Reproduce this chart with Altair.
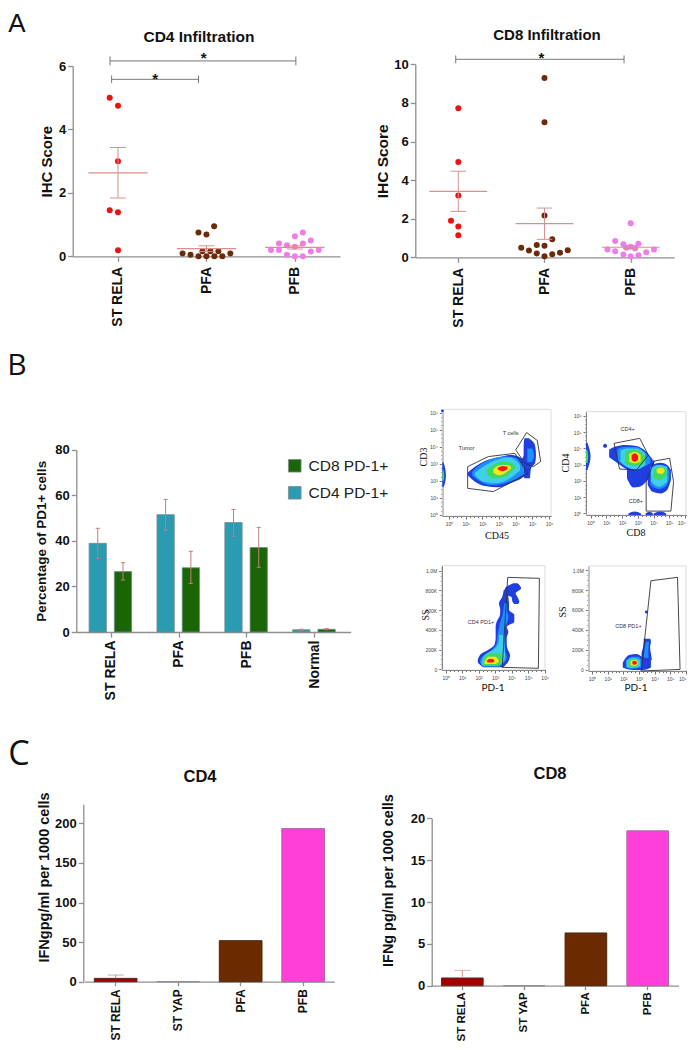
import altair as alt
import pandas as pd

W, H = 679, 1034
SANS = "Liberation Sans"
AXIS_GREY = "#8f8f8f"
ERR = "#d98f8f"

# ---------- Panel A data ----------
A_CATS = ["ST RELA", "PFA", "PFB"]
A_COLORS = ["#ee1111", "#6b2a0a", "#f07ce8"]

cd4_rela_off = [-0.094, 0, 0, -0.094, 0, 0]
cd4_rela_val = [5.0, 4.75, 3.0, 1.45, 1.39, 0.19]
cd4_pfa_off = [0.087, -0.09, 0, -0.045, 0.045, 0.135, -0.27, -0.18, -0.09, 0, 0.09, 0.18, 0.27]
cd4_pfa_val = [0.95, 0.75, 0.69, 0.16, 0.16, 0.16, 0.09, 0.05, 0, 0, 0, 0, 0.09]
cd4_pfb_off = [0.09, 0, 0.18, -0.18, 0.09, -0.09, 0, -0.27, -0.18, 0.27, 0.18, -0.09, 0, 0.09]
cd4_pfb_val = [0.75, 0.63, 0.5, 0.4, 0.4, 0.35, 0.3, 0.2, 0.2, 0.2, 0.15, 0.05, 0, 0]
cd4_mean = [2.63, 0.24, 0.28]
cd4_hi = [3.43, 0.33, 0.33]
cd4_lo = [1.84, 0.15, 0.23]

cd8_rela_off = [0, 0, 0, -0.085, 0, 0]
cd8_rela_val = [7.72, 4.94, 3.2, 1.9, 1.59, 1.14]
cd8_pfa_off = [0, 0, 0, 0.09, -0.27, -0.09, 0, -0.18, -0.09, 0.09, 0.18, 0.27, 0]
cd8_pfa_val = [9.29, 7.0, 2.16, 0.93, 0.5, 0.64, 0.6, 0.35, 0.2, 0.16, 0.24, 0.36, 0.05]
cd8_pfb_off = [0, -0.18, -0.085, 0.09, 0, -0.05, 0.05, -0.27, -0.18, 0.27, 0.18, -0.085, 0, 0.09]
cd8_pfb_val = [1.76, 0.85, 0.67, 0.7, 0.55, 0.5, 0.45, 0.4, 0.31, 0.4, 0.26, 0.15, 0.05, 0.1]
cd8_mean = [3.42, 1.74, 0.52]
cd8_hi = [4.46, 2.55, 0.6]
cd8_lo = [2.38, 0.93, 0.45]

# bracket: start category, end category, level, end tick half height
cd4_brackets = [(-0.09, 2.011, 6.16, 0.14), (-0.072, 0.91, 5.58, 0.12)]
cd4_stars = [(0.97, 6.36), (0.42, 5.7)]
cd8_brackets = [(-0.03, 1.923, 10.26, 0.2)]
cd8_stars = [(0.965, 10.5)]

# ---------- Panel B data ----------
B_CATS = ["ST RELA", "PFA", "PFB", "Normal"]
B_OFF = {"CD4 PD-1+": -0.191, "CD8 PD-1+": 0.181}
pd1_cd4 = [38.9, 51.5, 48.0, 1.0]
pd1_cd4_hi = [45.5, 58.2, 53.8, 1.2]
pd1_cd4_lo = [32.3, 44.7, 42.0, 0.8]
pd1_cd8 = [26.5, 28.2, 37.1, 1.2]
pd1_cd8_hi = [30.4, 35.4, 45.9, 1.5]
pd1_cd8_lo = [22.8, 21.3, 28.4, 1.0]

# ---------- Panel C data ----------
C_CATS = ["ST RELA", "ST YAP", "PFA", "PFB"]
C_FILL = ["#a30000", "#6b2a00", "#6b2a00", "#ff3fd8"]
C_STROKE = ["#5a2a2a", "#8f8f8f", "#4a2a10", "#a868a8"]
ifn_cd4 = [4.2, 0, 51.8, 193.3]
ifn_cd4_hi = [8.4]
ifn_cd8 = [0.92, 0, 6.3, 18.5]
ifn_cd8_hi = [1.83]

# ---------- Flow cytometry: density contours (level 0 outermost ... 5 innermost) ----------
LEVELS = ["#1f3fe0", "#1f8fff", "#3fd0e8", "#3fd860", "#f0e818", "#f01818"]

f1_columns = [
    (0, [(1.12, 2.32, 2.48), (1.56, 1.95, 2.83), (2.16, 1.70, 3.16), (2.96, 1.62, 3.38), (3.76, 1.89, 3.52), (4.36, 2.15, 3.32), (4.66, 2.40, 2.64)]),
    (1, [(1.4, 2.3, 2.55), (1.8, 2.0, 2.9), (2.5, 1.75, 3.25), (3.3, 1.85, 3.42), (4.0, 2.1, 3.35), (4.5, 2.4, 2.8)]),
    (2, [(1.56, 2.32, 2.48), (2.06, 1.95, 2.83), (2.86, 1.86, 3.22), (3.66, 2.15, 3.38), (4.26, 2.6, 2.93)]),
    (3, [(2.26, 2.40, 2.64), (2.66, 2.15, 2.93), (3.26, 2.21, 3.13), (3.76, 2.54, 3.03), (3.96, 2.73, 2.87)]),
    (4, [(2.66, 2.48, 2.68), (3.06, 2.32, 2.91), (3.46, 2.52, 2.93), (3.72, 2.71, 2.83)]),
    (5, [(2.92, 2.68, 2.75), (3.2, 2.56, 2.87), (3.5, 2.68, 2.83)]),
]
f1_rows = [
    (0, [(4.49, 4.52, 4.8), (4.10, 4.48, 5.16), (3.52, 4.48, 5.22), (3.03, 4.26, 5.16), (2.73, 4.32, 4.92), (2.15, 4.52, 4.86)]),
    (1, [(3.9, 4.7, 5.0), (3.5, 4.7, 5.1), (3.1, 4.7, 5.0)]),
    (0, [(1.66, -0.4, -0.3), (2.3, -0.4, -0.18), (3.0, -0.4, -0.3), (3.1, -0.4, -0.38)]),
    (3, [(2.0, -0.4, -0.32), (2.3, -0.4, -0.28), (2.6, -0.4, -0.32)]),
]
f2_columns = [
    (0, [(1.18, 3.45, 3.94), (1.59, 3.18, 4.11), (2.2, 2.77, 4.21), (2.92, 2.57, 4.15), (3.53, 2.77, 3.8), (3.94, 2.98, 3.33)]),
    (0, [(2.31, 2.16, 2.77), (2.71, 1.6, 2.87), (3.12, 1.64, 2.87), (3.63, 2.05, 3.08), (4.04, 2.57, 3.29)]),
    (0, [(3.63, 1.75, 2.77), (3.94, 1.33, 2.98), (4.45, 1.23, 3.12), (4.86, 1.44, 2.98), (5.1, 2.05, 2.67)]),
    (1, [(1.7, 3.25, 3.95), (2.1, 2.95, 4.08), (2.9, 2.7, 4.08), (3.45, 2.9, 3.75), (3.8, 3.1, 3.4)]),
    (2, [(1.9, 3.18, 3.85), (2.31, 2.87, 4.0), (2.92, 2.71, 4.0), (3.47, 2.98, 3.7)]),
    (3, [(2.2, 3.08, 3.8), (2.71, 2.92, 3.94), (3.22, 2.98, 3.8), (3.47, 3.29, 3.49)]),
    (4, [(2.45, 3.18, 3.66), (2.82, 3.08, 3.8), (3.18, 3.18, 3.59)]),
    (5, [(2.61, 3.29, 3.59), (2.82, 3.18, 3.7), (3.02, 3.33, 3.53)]),
    (1, [(3.8, 1.75, 2.85), (4.35, 1.5, 3.0), (4.8, 1.7, 2.9), (5.0, 2.1, 2.6)]),
    (2, [(3.84, 1.95, 2.77), (4.35, 1.64, 2.98), (4.86, 1.95, 2.87)]),
    (3, [(4.0, 2.16, 2.71), (4.41, 2.05, 2.87), (4.82, 2.36, 2.73)]),
    (4, [(4.2, 2.51, 2.73), (4.49, 2.42, 2.81), (4.69, 2.57, 2.73)]),
    (0, [(2.4, -0.1, 0.0), (2.8, -0.1, 0.12), (3.2, -0.1, 0.0)]),
    (0, [(3.5, -0.1, 0.0), (3.75, -0.1, 0.1), (3.95, -0.1, 0.0)]),
    (0, [(4.0, -0.1, 0.0), (4.45, -0.1, 0.12), (4.8, -0.1, 0.0)]),
    (0, [(0.8, 4.08, 4.2), (0.92, 4.03, 4.28), (1.04, 4.08, 4.2)]),
]
f2_rows = [
    (0, [(2.67, -0.29, -0.2), (3.5, -0.29, 0.0), (4.35, -0.29, -0.2)]),
    (3, [(3.1, -0.29, -0.2), (3.5, -0.29, -0.15), (3.9, -0.29, -0.2)]),
]
f3_columns = []
f3_rows = [
    (0, [(20, 2.28, 3.49), (78, 1.94, 3.8), (145, 2.08, 3.9), (203, 2.63, 3.76), (247, 2.95, 3.7), (314, 3.03, 3.7), (382, 3.03, 3.8), (432, 3.03, 3.7), (483, 3.09, 4.16), (551, 3.29, 4.16), (601, 3.31, 3.84), (669, 3.23, 3.84), (736, 3.43, 3.8), (804, 3.52, 3.8)]),
    (0, [(872, 4.1, 4.36), (821, 3.6, 4.57), (770, 3.52, 4.24), (730, 4.0, 4.36), (686, 4.04, 4.46), (662, 4.16, 4.4)]),
    (1, [(27, 2.28, 3.29), (78, 2.08, 3.6), (128, 2.22, 3.7), (196, 2.79, 3.6), (263, 3.09, 3.6), (348, 3.15, 3.6), (415, 3.23, 3.56), (466, 3.29, 3.7), (534, 3.43, 3.8), (601, 3.49, 3.7), (669, 3.56, 3.7)]),
    (2, [(44, 2.18, 3.29), (95, 2.22, 3.56), (145, 2.38, 3.6), (213, 3.0, 3.56), (297, 3.23, 3.52), (348, 3.23, 3.47)]),
    (3, [(34, 2.22, 3.15), (78, 2.28, 3.39), (128, 2.38, 3.43), (162, 2.69, 3.29)]),
    (4, [(54, 2.34, 3.03), (84, 2.38, 3.23), (128, 2.55, 3.03)]),
    (5, [(68, 2.55, 2.87), (84, 2.5, 2.95), (105, 2.63, 2.87)]),
]
f4_columns = [
    (0, [(1.96, 23, 70), (2.36, 3, 147), (2.86, -3, 157), (3.26, -3, 124), (3.76, 23, 114)]),
    (1, [(2.16, 23, 97), (2.56, 10, 131), (2.96, 17, 131), (3.16, 23, 97)]),
    (2, [(2.22, 30, 90), (2.66, 17, 117), (3.06, 37, 97)]),
    (3, [(2.3, 37, 87), (2.7, 23, 107), (2.96, 47, 87)]),
    (4, [(2.46, 44, 90), (2.76, 37, 97), (2.92, 54, 80)]),
    (5, [(2.58, 54, 84), (2.74, 50, 87), (2.86, 60, 77)]),
]
f4_rows = [
    (0, [(97, 3.16, 3.82), (164, 3.16, 3.76), (224, 3.26, 3.7), (281, 3.3, 3.76), (312, 3.3, 3.72)]),
    (1, [(110, 3.3, 3.6), (200, 3.35, 3.6), (280, 3.45, 3.65)]),
]

f1_gates = [
    [(1.12, 2.83), (2.36, 3.42), (3.96, 3.61), (4.72, 2.42), (2.66, 1.37), (1.12, 1.56), (1.12, 2.83)],
    [(4.66, 4.83), (5.3, 4.36), (5.5, 3.13), (5.06, 2.83), (4.56, 3.03), (4.0, 3.81), (4.66, 4.83)],
]
f2_gates = [
    [(1.49, 4.31), (3.12, 4.62), (3.67, 3.59), (2.92, 2.67), (1.84, 2.73), (1.49, 4.31)],
    [(4.04, 3.22), (5.02, 3.39), (5.27, 1.95), (5.1, 0.14), (3.53, 0.14), (3.53, 1.95), (4.04, 3.22)],
]
f3_gates = [[(3.76, 932), (5.68, 922), (5.62, 10), (3.43, 20), (3.76, 932)]]
f4_gates = [[(3.76, 894), (5.46, 928), (5.62, 3), (3.14, -13), (3.76, 894)]]

f1_notes = [("Tumor", 1.06, 3.93), ("T cells", 3.7, 4.82)]
f2_notes = [("CD4+", 2.35, 5.17), ("CD8+", 2.88, 0.76)]
f3_notes = [("CD4 PD1+", 2.14, 476)]
f4_notes = [("CD8 PD1+", 2.32, 435)]
f1_dots = [(-0.4, 6.1)]
f2_dots = []
f3_dots = []
f4_dots = [(3.46, 580)]


# ---------- helpers ----------
def qscale(domain, px):
    return alt.Scale(domain=domain, range=[px[0] - 8, px[1] - 8], nice=False, zero=False)


def yaxis(px_x, values, title, size=13, title_size=14, title_x=None, title_y=None, weight="bold"):
    ax = dict(
        orient="left", offset=-(px_x - 8), values=values, grid=False,
        domainColor=AXIS_GREY, tickColor=AXIS_GREY, domainWidth=1.3, tickWidth=1.3, tickSize=5,
        labelFont=SANS, labelFontSize=size, labelFontWeight=weight, labelColor="#111", labelPadding=2,
        title=title, titleFont=SANS, titleFontSize=title_size, titleFontWeight="bold", titleColor="#111",
        titleAngle=270, titleAlign="center", titleBaseline="middle",
        titleX=title_x - px_x,
    )
    if title_y is not None:
        ax["titleY"] = title_y - 8
    return alt.Axis(**ax)


def xaxis(px_y, values, names, size=14, pad=5, tick=5):
    ax = dict(
        orient="bottom", offset=-(H - (px_y - 8)), grid=False,
        domainColor=AXIS_GREY, tickColor=AXIS_GREY, domainWidth=1.3, tickWidth=1.3, tickSize=tick,
        labelFont=SANS, labelFontSize=size, labelFontWeight="bold", labelColor="#111",
        labelAngle=270, labelPadding=pad, title=None,
    )
    if values is not None:
        ax["values"] = values
        ax["labelExpr"] = "[" + ",".join(f"'{n}'" for n in names) + "][datum.value]"
    return alt.Axis(**ax)


def text_layer(label, px_x, px_y, size, font=SANS, weight="normal", angle=0, color="#111"):
    kw = dict(font=font, fontSize=size, fontWeight=weight, color=color, align="center", baseline="middle")
    if angle:
        kw["angle"] = angle
    return alt.Chart(pd.DataFrame({"t": [label]})).mark_text(**kw).encode(
        text="t:N", x=alt.value(px_x - 8), y=alt.value(px_y - 8))


def scatter_panel(offs, vals, mean, hi, lo, brackets, stars, xs, ys, yax, xax):
    rows = []
    for i, cat in enumerate(A_CATS):
        for o, v in zip(offs[i], vals[i]):
            rows.append({"pos": i + o, "value": v, "group": cat})
    pts = pd.DataFrame(rows)
    stats = pd.DataFrame({"pos": [0, 1, 2], "mean": mean, "hi": hi, "lo": lo})
    br = pd.DataFrame(brackets, columns=["a", "b", "y", "t"])
    st = pd.DataFrame(stars, columns=["x", "y"]).assign(s="*")
    X = lambda f: alt.X(f, scale=xs, axis=None)
    Y = lambda f: alt.Y(f, scale=ys, axis=None)
    layers = [
        alt.Chart(pts).mark_circle(size=36, opacity=1).encode(
            x=alt.X("pos:Q", scale=xs, axis=xax), y=alt.Y("value:Q", scale=ys, axis=yax),
            color=alt.Color("group:N", scale=alt.Scale(domain=A_CATS, range=A_COLORS), legend=None)),
        alt.Chart(stats).mark_rule(color=ERR, strokeWidth=1).encode(x=X("pos:Q"), y=Y("lo:Q"), y2="hi:Q"),
        alt.Chart(stats).transform_calculate(a="datum.pos-0.335", b="datum.pos+0.335").mark_rule(color=ERR, strokeWidth=1.2)
        .encode(x=X("a:Q"), x2="b:Q", y=Y("mean:Q")),
        alt.Chart(stats).transform_calculate(a="datum.pos-0.09", b="datum.pos+0.09").mark_rule(color=ERR, strokeWidth=1)
        .encode(x=X("a:Q"), x2="b:Q", y=Y("hi:Q")),
        alt.Chart(stats).transform_calculate(a="datum.pos-0.09", b="datum.pos+0.09").mark_rule(color=ERR, strokeWidth=1)
        .encode(x=X("a:Q"), x2="b:Q", y=Y("lo:Q")),
        alt.Chart(br).mark_rule(color="#777", strokeWidth=1).encode(x=X("a:Q"), x2="b:Q", y=Y("y:Q")),
        alt.Chart(br).transform_calculate(u="datum.y+datum.t", d="datum.y-datum.t").mark_rule(color="#777", strokeWidth=1)
        .encode(x=X("a:Q"), y=Y("u:Q"), y2="d:Q"),
        alt.Chart(br).transform_calculate(u="datum.y+datum.t", d="datum.y-datum.t").mark_rule(color="#777", strokeWidth=1)
        .encode(x=X("b:Q"), y=Y("u:Q"), y2="d:Q"),
        alt.Chart(st).mark_text(font=SANS, fontSize=15, fontWeight="bold", color="#111", baseline="middle", dy=3)
        .encode(x=X("x:Q"), y=Y("y:Q"), text="s:N"),
    ]
    return layers


def bar_c_panel(vals, hi, xs, ys, yax, xax, cap):
    df = pd.DataFrame({"cat": C_CATS, "value": vals})
    err = pd.DataFrame({"cat": C_CATS[:1], "value": vals[:1], "hi": hi})
    return [
        alt.Chart(df).mark_bar(strokeWidth=1).encode(
            x=alt.X("cat:N", sort=C_CATS, scale=xs, axis=xax),
            y=alt.Y("value:Q", scale=ys, axis=yax),
            color=alt.Color("cat:N", scale=alt.Scale(domain=C_CATS, range=C_FILL), legend=None),
            stroke=alt.Stroke("cat:N", scale=alt.Scale(domain=C_CATS, range=C_STROKE), legend=None)),
        alt.Chart(err).mark_rule(color=cap, strokeWidth=1).encode(
            x=alt.X("cat:N", sort=C_CATS, scale=xs, axis=None),
            y=alt.Y("value:Q", scale=ys, axis=None), y2="hi:Q"),
        alt.Chart(err).mark_tick(color=cap, size=16, thickness=1).encode(
            x=alt.X("cat:N", sort=C_CATS, scale=xs, axis=None),
            y=alt.Y("hi:Q", scale=ys, axis=None)),
    ]


def flow_x_axis(px_y, flush):
    return alt.Axis(
        orient="bottom", offset=-(H - (px_y - 8)), values=[i / 4 for i in range(0, 25)], grid=False,
        domainColor="#333", tickColor="#333", domainWidth=1, tickWidth=0.7,
        tickSize={"condition": {"test": "datum.value % 1 == 0", "value": 3}, "value": 1.5},
        labelFont=SANS, labelFontSize=5, labelColor="#444", labelAngle=0, labelPadding=2, labelOverlap=False,
        labelFlush=flush,
        labelExpr="datum.value % 1 == 0 ? '10' + ['\u2070','\u00b9','\u00b2','\u00b3','\u2074','\u2075','\u2076'][datum.value] : ''",
        title=None)


def flow_y_axis(px_x, kilo):
    if kilo:
        vals = [i * 50 for i in range(0, 21)]
        test = "datum.value % 200 == 0"
        expr = "datum.value == 1000 ? '1.0M' : datum.value == 0 ? '0' : datum.value % 200 == 0 ? datum.value + 'K' : ''"
    else:
        vals = [i / 4 for i in range(0, 25)]
        test = "datum.value % 1 == 0"
        expr = "datum.value % 1 == 0 ? '10' + ['\u2070','\u00b9','\u00b2','\u00b3','\u2074','\u2075','\u2076'][datum.value] : ''"
    return alt.Axis(
        orient="left", offset=-(px_x - 8), values=vals, grid=False,
        domainColor="#333", tickColor="#333", domainWidth=1, tickWidth=0.7,
        tickSize={"condition": {"test": test, "value": 3}, "value": 1.5},
        labelFont=SANS, labelFontSize=5, labelColor="#444", labelPadding=2, labelOverlap=False,
        labelExpr=expr, title=None)


def contour_df(items):
    rows = []
    for k, (lvl, pts) in enumerate(items):
        for a, lo, hi in pts:
            rows.append({"id": k, "level": lvl, "a": a, "lo": lo, "hi": hi})
    return pd.DataFrame(rows)


def flow_panel(xd, xp, yd, yp, columns, rows, gates, notes, dots, kilo, flush=False):
    xs, ys = qscale(xd, xp), qscale(yd, (yp[0], yp[1]))
    X = lambda f: alt.X(f, scale=xs, axis=None)
    Y = lambda f: alt.Y(f, scale=ys, axis=None)
    col = alt.Color("level:O", scale=alt.Scale(domain=list(range(6)), range=LEVELS), legend=None)
    frame = pd.DataFrame({"x0": [xd[0]], "x1": [xd[1]], "y0": [yd[0]], "y1": [yd[1]]})
    layers = [
        alt.Chart(frame).mark_rect(fillOpacity=0, stroke="#dcdcdc", strokeWidth=1).encode(
            x=alt.X("x0:Q", scale=xs, axis=flow_x_axis(yp[0], flush)), x2="x1:Q",
            y=alt.Y("y0:Q", scale=ys, axis=flow_y_axis(xp[0], kilo)), y2="y1:Q"),
    ]
    if rows:
        layers.append(alt.Chart(contour_df(rows)).mark_area(interpolate="monotone", orient="horizontal").encode(
            y=Y("a:Q"), x=X("lo:Q"), x2="hi:Q", color=col, detail="id:N"))
    if columns:
        layers.append(alt.Chart(contour_df(columns)).mark_area(interpolate="monotone", orient="vertical").encode(
            x=X("a:Q"), y=Y("lo:Q"), y2="hi:Q", color=col, detail="id:N"))
    if dots:
        layers.append(alt.Chart(pd.DataFrame(dots, columns=["x", "y"])).mark_circle(size=8, color=LEVELS[0], opacity=1).encode(
            x=X("x:Q"), y=Y("y:Q")))
    g = pd.DataFrame([{"gate": n, "i": i, "x": p[0], "y": p[1]} for n, gate in enumerate(gates) for i, p in enumerate(gate)])
    layers.append(alt.Chart(g).mark_line(color="#333", strokeWidth=0.9).encode(
        x=X("x:Q"), y=Y("y:Q"), detail="gate:N", order="i:Q"))
    layers.append(alt.Chart(pd.DataFrame(notes, columns=["t", "x", "y"])).mark_text(
        font=SANS, fontSize=5.5, color="#334").encode(x=X("x:Q"), y=Y("y:Q"), text="t:N"))
    return layers


# ---------- assemble ----------
layers = [
    text_layer("A", 17, 24, 26),
    text_layer("B", 17, 366, 30, font="Open Sans"),
    text_layer("C", 19, 755, 34, font="Open Sans"),
    text_layer("CD4 Infiltration", 199, 37, 15.5, weight="bold"),
    text_layer("CD8 Infiltration", 547, 35, 15, weight="bold"),
    text_layer("CD4", 200, 777, 16.5, weight="bold"),
    text_layer("CD8", 550, 774, 16.5, weight="bold"),
]

# A left
layers += scatter_panel(
    [cd4_rela_off, cd4_pfa_off, cd4_pfb_off], [cd4_rela_val, cd4_pfa_val, cd4_pfb_val],
    cd4_mean, cd4_hi, cd4_lo, cd4_brackets, cd4_stars,
    qscale([-0.512, 2.51], (72.7, 340)), qscale([0, 6], (256.3, 66)),
    yaxis(72.7, [0, 2, 4, 6], "IHC Score", title_x=47, title_size=15),
    xaxis(256.3, [0, 1, 2], A_CATS))
# A right
layers += scatter_panel(
    [cd8_rela_off, cd8_pfa_off, cd8_pfb_off], [cd8_rela_val, cd8_pfa_val, cd8_pfb_val],
    cd8_mean, cd8_hi, cd8_lo, cd8_brackets, cd8_stars,
    qscale([-0.499, 2.506], (415.3, 674.3)), qscale([0, 10], (257.3, 64.3)),
    yaxis(415.3, [0, 2, 4, 6, 8, 10], "IHC Score", title_x=382, title_size=15.5),
    xaxis(257.3, [0, 1, 2], A_CATS))

# B bars
bx = qscale([-0.507, 3.536], (76.3, 350.7))
by = qscale([0, 80], (632, 449.7))
rows_b = []
for name, v, hi, lo in [("CD4 PD-1+", pd1_cd4, pd1_cd4_hi, pd1_cd4_lo), ("CD8 PD-1+", pd1_cd8, pd1_cd8_hi, pd1_cd8_lo)]:
    for i in range(4):
        rows_b.append({"series": name, "pos": i + B_OFF[name], "value": v[i], "hi": hi[i], "lo": lo[i], "base": 0})
df_b = pd.DataFrame(rows_b)
layers += [
    alt.Chart(df_b).transform_calculate(a="datum.pos-0.1275", b="datum.pos+0.1275").mark_rect(stroke="#6f8f8f", strokeWidth=0.8).encode(
        x=alt.X("a:Q", scale=bx, axis=xaxis(632, [0, 1, 2, 3], B_CATS, pad=3)), x2="b:Q",
        y=alt.Y("base:Q", scale=by, axis=yaxis(76.3, [0, 20, 40, 60, 80], "Percentage of PD1+ cells", title_x=41, title_size=13.5)),
        y2="value:Q",
        color=alt.Color("series:N", scale=alt.Scale(domain=["CD8 PD-1+", "CD4 PD-1+"], range=["#1a6606", "#2a9bb0"]),
                        legend=alt.Legend(orient="none", legendX=279, legendY=450, title=None, symbolType="square",
                                          symbolSize=160, symbolStrokeColor="#7f8f8f", symbolStrokeWidth=0.8,
                                          labelFont=SANS, labelFontSize=15.5, labelColor="#222", rowPadding=9, labelOffset=6))),
    alt.Chart(df_b).mark_rule(color="#c77a7a", strokeWidth=1).encode(
        x=alt.X("pos:Q", scale=bx, axis=None), y=alt.Y("lo:Q", scale=by, axis=None), y2="hi:Q"),
    alt.Chart(df_b).transform_calculate(a="datum.pos-0.03", b="datum.pos+0.03").mark_rule(color="#c77a7a", strokeWidth=1).encode(
        x=alt.X("a:Q", scale=bx, axis=None), x2="b:Q", y=alt.Y("hi:Q", scale=by, axis=None)),
    alt.Chart(df_b).transform_calculate(a="datum.pos-0.03", b="datum.pos+0.03").mark_rule(color="#c77a7a", strokeWidth=1).encode(
        x=alt.X("a:Q", scale=bx, axis=None), x2="b:Q", y=alt.Y("lo:Q", scale=by, axis=None)),
]

# B flow panels
layers += flow_panel([-0.4, 6.12], (442.3, 551), [-0.06, 6.19], (516, 409.3), f1_columns, f1_rows, f1_gates, f1_notes, f1_dots, False)
layers += flow_panel([-0.29, 6.06], (586, 686), [-0.1, 6.26], (515, 411.7), f2_columns, f2_rows, f2_gates, f2_notes, f2_dots, False, flush=True)
layers += flow_panel([-0.24, 6.02], (441.7, 545), [-7, 1050], (670, 565.7), f3_columns, f3_rows, f3_gates, f3_notes, f3_dots, True)
layers += flow_panel([-0.24, 6.0], (588.3, 686), [-13, 1042], (671, 566), f4_columns, f4_rows, f4_gates, f4_notes, f4_dots, True, flush=True)
SERIF = "Liberation Serif"
layers += [
    text_layer("CD45", 497, 536, 10, font=SERIF),
    text_layer("CD3", 424, 457, 10, font=SERIF, angle=270),
    text_layer("CD8", 636, 533, 10, font=SERIF),
    text_layer("CD4", 566, 463, 10, font=SERIF, angle=270),
    text_layer("PD-1", 493, 688, 10, font="Lato"),
    text_layer("PD-1", 636, 688, 10, font="Lato"),
    text_layer("SS", 426, 615, 10, font=SERIF, angle=270),
    text_layer("SS", 563, 612, 10, font=SERIF, angle=270),
]


def band(px, inner):
    return alt.Scale(type="band", domain=C_CATS, range=[px[0] - 8, px[1] - 8], paddingInner=inner, paddingOuter=inner / 2)


# C
layers += bar_c_panel(ifn_cd4, ifn_cd4_hi, band((84.4, 334.4), 0.317), qscale([0, 224], (981.7, 804.3)),
                      yaxis(83.3, [0, 50, 100, 150, 200], "IFNgpg/ml per 1000 cells", title_x=44, title_y=877, title_size=14.5),
                      xaxis(981.7, None, None, size=12, pad=3, tick=4), "#999999")
layers += bar_c_panel(ifn_cd8, ifn_cd8_hi, band((431.4, 678.6), 0.326), qscale([0, 20], (985.7, 818.3)),
                      yaxis(431.7, [0, 5, 10, 15, 20], "IFNg pg/ml per 1000 cells", title_x=388, title_y=880, title_size=14.4),
                      xaxis(985.7, None, None, size=11.5, pad=2, tick=4), "#e88a8a")

chart = (
    alt.layer(*layers)
    .resolve_scale(x="independent", y="independent", color="independent", stroke="independent")
    .resolve_axis(x="independent", y="independent")
    .properties(width=W, height=H, padding=0, autosize=alt.AutoSizeParams(type="none"), background="white")
    .configure_view(stroke=None)
)

chart.save("out.html", embed_options={"renderer": "svg", "actions": False})
